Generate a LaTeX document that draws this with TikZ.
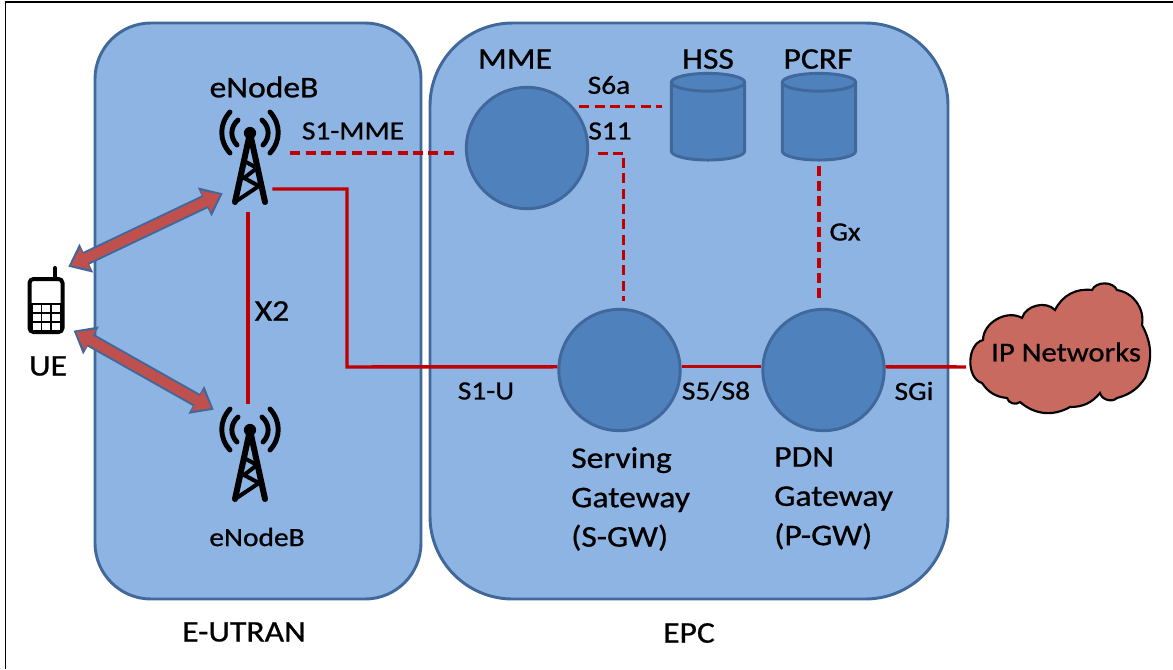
\documentclass[tikz,border=0pt]{standalone}
\usepackage{fontspec}
\setmainfont[FakeStretch=1.12,FakeBold=0.8]{Carlito}
\usetikzlibrary{arrows.meta,positioning,shapes.geometric}
\definecolor{panelblue}{HTML}{8EB4E3}
\definecolor{edgeblue}{HTML}{41689A}
\definecolor{unitblue}{HTML}{4F81BD}
\definecolor{linkred}{HTML}{C00000}
\definecolor{shaftred}{HTML}{C0504D}
\definecolor{cloudred}{HTML}{C96A60}
\tikzset{
    %Define style for boxes
    panel/.style={
           rectangle,
           draw=edgeblue, line width=2.2pt,
           fill=panelblue},
    unit/.style={
           circle,
           draw=edgeblue, line width=2.2pt,
           fill=unitblue,
           minimum size=91pt},
    store/.style={
           cylinder,
           shape border rotate=90,
           shape aspect=2.0,
           draw=edgeblue, line width=2.2pt,
           fill=unitblue,
           minimum width=55pt,
           minimum height=65pt},
    towerbox/.style={minimum width=46.5pt, minimum height=75pt, inner sep=0pt},
    lbl/.style={font=\fontsize{19.7}{20}\selectfont, inner sep=0pt, text=black},
    biglbl/.style={font=\fontsize{22.5}{29.5}\selectfont, inner sep=0pt, text=black},
    % Define line styles
    userline/.style={draw=linkred, line width=2.6pt},
    ctrlline/.style={draw=linkred, line width=2.6pt, dash pattern=on 7.5pt off 4pt},
    radiolink/.style={
           draw=shaftred, line width=7.5pt,
           shorten <=2.2pt, shorten >=2.2pt,
           {Triangle[length=12pt,width=17pt]}-{Triangle[length=12pt,width=17pt]},
           preaction={draw=edgeblue, line width=10.5pt, shorten <=0pt, shorten >=0pt,
                {Triangle[length=15pt,width=23pt]}-{Triangle[length=15pt,width=23pt]}}},
    % Radio mast drawn at the centre of its box
    mast/.pic={
        \draw[line width=4.5pt, line cap=round, line join=round]
            (-15,45) -- (0,-24) -- (15,45);
        \draw[line width=3pt, line join=round]
            (-15,45) -- (9,29) -- (-6,21) -- (7,11) -- (-4,5);
        \fill (0,-24) circle (4.6pt);
        \draw[line width=3.7pt, line cap=round]
            (-13,-12) .. controls (-20,-19) and (-20,-30) .. (-12,-37)
            (13,-12) .. controls (20,-19) and (20,-30) .. (12,-37)
            (-20,-4) .. controls (-31,-16) and (-31,-33) .. (-20,-45)
            (20,-4) .. controls (31,-16) and (31,-33) .. (20,-45);
    }
}
\begin{document}
\begin{tikzpicture}[x=0.75pt,y=-0.75pt]
\useasboundingbox (0,0) rectangle (1173,669);
\draw[black, line width=1.1pt] (5.5,669) -- (5.5,2) -- (1173,2);

 %panels
\draw[panel, rounded corners=42pt] (95,23) rectangle (421,599);
\draw[panel, rounded corners=62pt] (430,23) rectangle (948,599);

 %nodes
\node[unit](mme) at (527,148){};
\node[unit](sgw) at (619.5,370){};
\node[unit](pgw) at (823.5,370){};
\node[store](hss) at (708,124){};
\node[store](pcrf) at (819,124){};
\node[towerbox](enb1) at (250,157){};
\node[towerbox](enb2) at (250,454){};
\pic at (enb1) {mast};
\pic at (enb2) {mast};

 %phone
\node[minimum width=27pt, minimum height=49.5pt, inner sep=0pt](phone) at (46,300){};
\draw[line width=3pt, rounded corners=3pt] (29.5,279) rectangle (62.5,332);
\draw[line width=3pt, line cap=round] (55,279) -- (55,268);
\fill (29.5,303) rectangle (62.5,331);
\foreach \gx in {32.5,42,51.5}
    \foreach \gy in {305,314,323}
        \fill[white] (\gx,\gy) rectangle ++(8,7);

 %cloud
\draw[black, line width=1.6pt, fill=cloudred]
    (983,340) to[bend left=60] (1022,318) to[bend left=60] (1055,310)
    to[bend left=35] (1092,290) to[bend left=65] (1117,290)
    to[bend left=45] (1142,325) to[bend left=25] (1145,378)
    to[bend left=20] (1117,398) to[bend left=60] (1100,393)
    to[bend left=25] (1070,407) to[bend left=35] (1020,402)
    to[bend left=60] (1007,398) to[bend left=25] (982,383)
    to[bend left=75] cycle;
\node[lbl, font=\fontsize{20.5}{22}\selectfont](ipnet) at (1066,352){IP Networks};
\coordinate (cloudedge) at (966,367);

 %connectors
\draw[userline] ([xshift=-6.75pt,yshift=-24pt]enb1.east) -- (347,189) -- (347,367) -- (sgw.177);
\draw[userline] (sgw.3) -- (pgw.177);
\draw[userline] (pgw.3) -- (cloudedge);
\draw[userline, shorten <=3.5pt] ([xshift=-1.5pt]enb1.south) -- ([xshift=-1.5pt]enb2.north);
\draw[ctrlline, shorten <=6.75pt, shorten >=4.5pt] ([yshift=3pt]enb1.east) -- ([yshift=3pt]enb1.east -| mme.west);
\draw[ctrlline, shorten <=4.5pt, shorten >=6pt] (mme.42) -- (mme.42 -| hss.west);
\draw[ctrlline, shorten <=6.5pt, shorten >=5pt] (mme.-5) -| ([xshift=3pt]sgw.north);
\draw[ctrlline, shorten <=3pt, shorten >=6.5pt] (pcrf.south) -- (pcrf.south |- pgw.north);
\draw[radiolink] ([xshift=3pt]phone.north east) -- ([xshift=3pt,yshift=10.5pt]enb1.south west);
\draw[radiolink] ([xshift=7pt,yshift=2pt]phone.south east) -- ([xshift=-3.75pt,yshift=-4.5pt]enb2.north west);

 %labels
\node[biglbl] at (264,87){eNodeB};
\node[lbl] at (257,537){eNodeB};
\node[biglbl] at (48,366){UE};
\node[lbl] at (353,131){S1-MME};
\node[biglbl] at (272,311){X2};
\node[biglbl] at (515,59){MME};
\node[biglbl] at (708,59){HSS};
\node[biglbl] at (818,59){PCRF};
\node[lbl] at (609,85){S6a};
\node[lbl] at (610,131){S11};
\node[lbl] at (845,232){Gx};
\node[lbl] at (486,391){S1-U};
\node[lbl] at (716,391){S5/S8};
\node[lbl] at (914,391){SGi};
\node[biglbl, align=left, anchor=north west] at (571,447){Serving\\Gateway\\(S-GW)};
\node[biglbl, align=left, anchor=north west] at (774,447){PDN\\Gateway\\(P-GW)};
\node[biglbl] at (244,632){E-UTRAN};
\node[biglbl] at (689,633){EPC};

\end{tikzpicture}
\end{document}
